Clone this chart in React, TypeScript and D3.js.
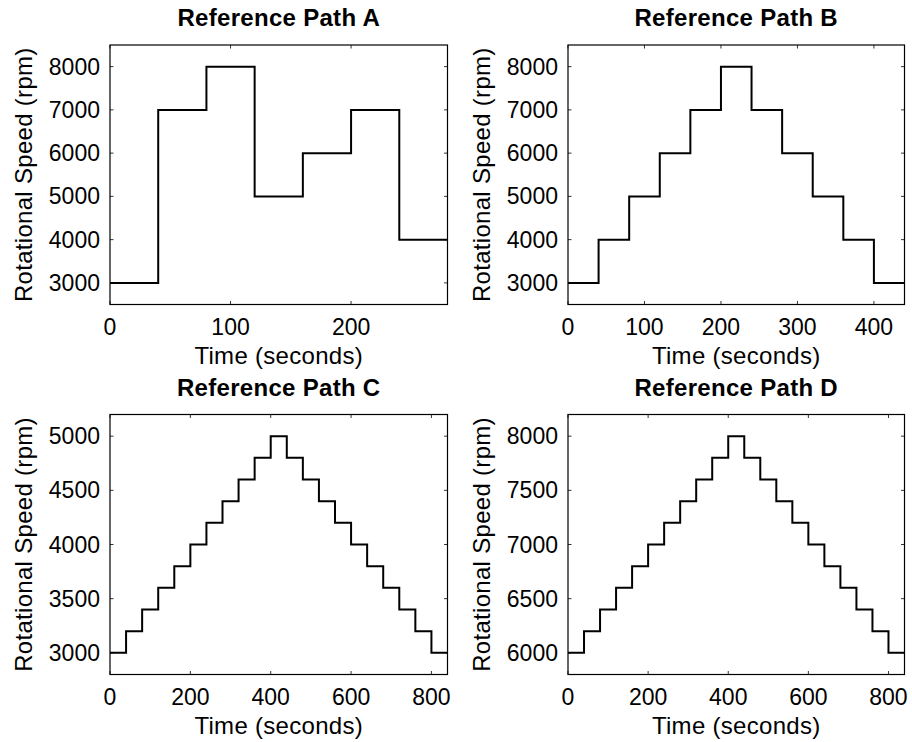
import React from "react";
import * as d3 from "d3";

// ---- Data ----
const pathATimes = [0, 40, 80, 120, 160, 200, 240, 280];
const pathAValues = [3000, 7000, 8000, 5000, 6000, 7000, 4000];

const pathBTimes = [0, 40, 80, 120, 160, 200, 240, 280, 320, 360, 400, 440];
const pathBValues = [3000, 4000, 5000, 6000, 7000, 8000, 7000, 6000, 5000, 4000, 3000];

const pathCTimes = [0, 40, 80, 120, 160, 200, 240, 280, 320, 360, 400, 440, 480, 520, 560, 600, 640, 680, 720, 760, 800, 840];
const pathCValues = [3000, 3200, 3400, 3600, 3800, 4000, 4200, 4400, 4600, 4800, 5000, 4800, 4600, 4400, 4200, 4000, 3800, 3600, 3400, 3200, 3000];

const pathDTimes = [0, 40, 80, 120, 160, 200, 240, 280, 320, 360, 400, 440, 480, 520, 560, 600, 640, 680, 720, 760, 800, 840];
const pathDValues = [6000, 6200, 6400, 6600, 6800, 7000, 7200, 7400, 7600, 7800, 8000, 7800, 7600, 7400, 7200, 7000, 6800, 6600, 6400, 6200, 6000];

const titles = ["Reference Path A", "Reference Path B", "Reference Path C", "Reference Path D"];

const xTicksA = [0, 100, 200];
const xTicksB = [0, 100, 200, 300, 400];
const xTicksC = [0, 200, 400, 600, 800];
const xTicksD = [0, 200, 400, 600, 800];

const yTicksA = [3000, 4000, 5000, 6000, 7000, 8000];
const yTicksB = [3000, 4000, 5000, 6000, 7000, 8000];
const yTicksC = [3000, 3500, 4000, 4500, 5000];
const yTicksD = [6000, 6500, 7000, 7500, 8000];

const xDomains: [number, number][] = [[0, 280], [0, 440], [0, 840], [0, 840]];
const yDomains: [number, number][] = [[2500, 8500], [2500, 8500], [2800, 5200], [5800, 8200]];

const xLabel = "Time (seconds)";
const yLabel = "Rotational Speed (rpm)";

const FONT = "'Liberation Sans', Arial, Helvetica, sans-serif";

interface PanelProps {
  left: number; right: number; top: number; bottom: number;
  title: string;
  times: number[]; values: number[];
  xDomain: [number, number]; yDomain: [number, number];
  xTicks: number[]; yTicks: number[];
}

function Panel(p: PanelProps) {
  const x = d3.scaleLinear().domain(p.xDomain).range([p.left, p.right]);
  const y = d3.scaleLinear().domain(p.yDomain).range([p.bottom, p.top]);
  const pts: [number, number][] = p.times.map((t, i) => [t, p.values[Math.min(i, p.values.length - 1)]]);
  const line = d3.line<[number, number]>().x(d => x(d[0])).y(d => y(d[1])).curve(d3.curveStepAfter);
  const tl = 3.5;
  const fs = 23;
  const lfs = 24;
  const ls = 0.3;
  const cx = (p.left + p.right) / 2;
  const cy = (p.top + p.bottom) / 2;
  return (
    <g>
      <text x={cx} y={p.top - 19} textAnchor="middle" fontFamily={FONT} fontWeight="bold" fontSize={lfs} letterSpacing={ls}>{p.title}</text>
      <path d={line(pts) || ""} fill="none" stroke="#000" strokeWidth={2} />
      <rect x={p.left} y={p.top} width={p.right - p.left} height={p.bottom - p.top} fill="none" stroke="#000" strokeWidth={1.2} />
      {p.xTicks.map(t => (
        <g key={"x" + t}>
          <line x1={x(t)} x2={x(t)} y1={p.bottom} y2={p.bottom - tl} stroke="#000" strokeWidth={0.8} />
          <line x1={x(t)} x2={x(t)} y1={p.top} y2={p.top + tl} stroke="#000" strokeWidth={0.8} />
          <text x={x(t)} y={p.bottom + 30} textAnchor="middle" fontFamily={FONT} fontSize={fs}>{t}</text>
        </g>
      ))}
      {p.yTicks.map(t => (
        <g key={"y" + t}>
          <line x1={p.left} x2={p.left + tl} y1={y(t)} y2={y(t)} stroke="#000" strokeWidth={0.8} />
          <line x1={p.right} x2={p.right - tl} y1={y(t)} y2={y(t)} stroke="#000" strokeWidth={0.8} />
          <text x={p.left - 10} y={y(t)} dy="0.35em" textAnchor="end" fontFamily={FONT} fontSize={fs}>{t}</text>
        </g>
      ))}
      <text x={cx} y={p.bottom + 59} textAnchor="middle" fontFamily={FONT} fontSize={lfs} letterSpacing={ls}>{xLabel}</text>
      <text transform={`translate(${p.left - 78},${cy}) rotate(-90)`} textAnchor="middle" fontFamily={FONT} fontSize={lfs} letterSpacing={ls}>{yLabel}</text>
    </g>
  );
}

export default function App() {
  const cols = [[110, 447.5], [568, 904.5]];
  const rows = [[45, 304.5], [414.5, 674.5]];
  const times = [pathATimes, pathBTimes, pathCTimes, pathDTimes];
  const values = [pathAValues, pathBValues, pathCValues, pathDValues];
  const xt = [xTicksA, xTicksB, xTicksC, xTicksD];
  const yt = [yTicksA, yTicksB, yTicksC, yTicksD];
  return (
    <svg width={912} height={742} style={{ position: "absolute", left: 0, top: 0, background: "#fff" }}>
      <rect width={912} height={742} fill="#fff" />
      {[0, 1, 2, 3].map(i => {
        const c = cols[i % 2];
        const r = rows[Math.floor(i / 2)];
        return (
          <Panel key={i} left={c[0]} right={c[1]} top={r[0]} bottom={r[1]} title={titles[i]}
            times={times[i]} values={values[i]} xDomain={xDomains[i]} yDomain={yDomains[i]}
            xTicks={xt[i]} yTicks={yt[i]} />
        );
      })}
    </svg>
  );
}
